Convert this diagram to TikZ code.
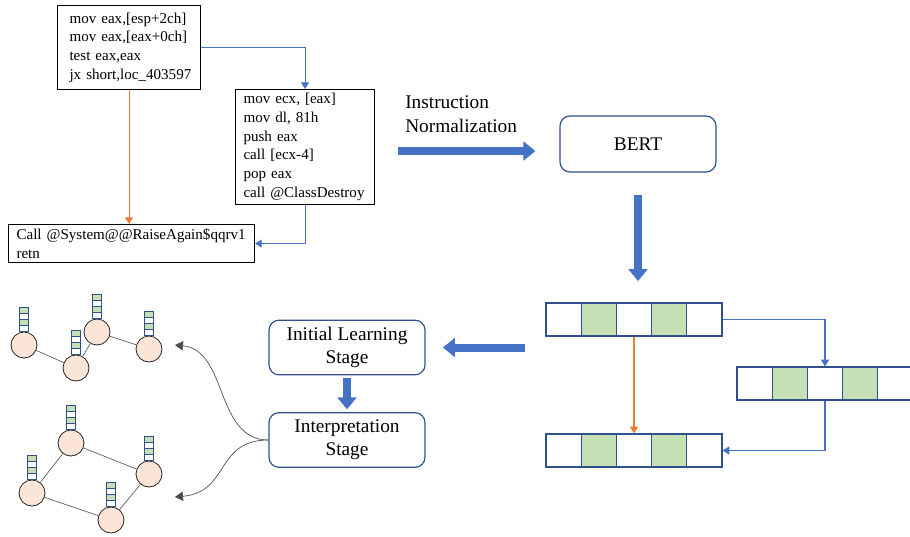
\documentclass[tikz,border=0pt]{standalone}
\usepackage{fontspec}
\setmainfont{Liberation Serif}
\usetikzlibrary{arrows.meta,positioning}

\definecolor{arrowblue}{HTML}{4472C4}
\definecolor{edgeblue}{HTML}{2F528F}
\definecolor{lineorange}{HTML}{ED7D31}
\definecolor{cellgreen}{HTML}{C5E0B4}
\definecolor{nodepeach}{HTML}{FBE5D6}

\tikzset{
  codebox/.style={draw=black, line width=0.8pt, align=left, anchor=north west,
    inner ysep=0pt, font=\fontsize{11.3}{14}\selectfont},
  stagebox/.style={draw=edgeblue, line width=0.9pt, rounded corners=7.5pt,
    minimum width=117pt, minimum height=41pt, align=center,
    font=\fontsize{14.5}{17.5}\selectfont},
  cell/.style={draw=edgeblue, line width=0.9pt, minimum width=26.4pt,
    minimum height=24.75pt, inner sep=0pt},
  gnode/.style={circle, draw=black!85, fill=nodepeach, line width=0.6pt,
    minimum size=19.5pt, inner sep=0pt},
  gedge/.style={draw=black!65, line width=0.5pt},
  flowblue/.style={draw=arrowblue, line width=0.8pt, -{Triangle[width=6pt,length=5pt]}},
  floworange/.style={draw=lineorange, line width=0.8pt, -{Triangle[width=6pt,length=5pt]}},
  bigarrow/.style={draw=arrowblue, line width=6pt, -{Triangle[width=14pt,length=9pt]}},
  swoop/.style={draw=black!70, line width=0.5pt, -{Triangle[width=7pt,length=6pt]}}
}

% feature bar on top of a graph node
\newcommand\featbar[1]{%
  \foreach \k/\f in {0/white,1/cellgreen,2/white,3/cellgreen}
    \draw[draw=edgeblue, fill=\f, line width=0.6pt]
      ([xshift=-3.4pt, yshift=\k*4.5pt]#1.north) rectangle ++(6.8pt,4.5pt);%
}

\begin{document}
\begin{tikzpicture}[x=0.75pt, y=-0.75pt]
    \useasboundingbox (0,0) rectangle (910,536);

    % Code blocks
    \node[codebox, inner xsep=9pt, text width=89.25pt, minimum height=63pt] (blkA) at (57,5)
      {mov eax,[esp+2ch]\\ mov eax,[eax+0ch]\\ test eax,eax\\ jx~short,loc\_403597};
    \node[codebox, inner xsep=6pt, text width=92.25pt, minimum height=86.25pt] (blkB) at (235,89)
      {mov ecx, [eax]\\ mov dl, 81h\\ push eax\\ call [ecx-4]\\ pop eax\\ call @ClassDestroy};
    \node[codebox, inner xsep=6pt, text width=172.5pt, minimum height=28.5pt] (blkC) at (8,224)
      {Call @System@@RaiseAgain\$qqrv1\\ retn};

    \draw[flowblue] (blkA.east) -| (blkB.north);
    \draw[floworange] (blkA.south) -- (blkA.south |- blkC.north);
    \draw[flowblue] (blkB.south) |- (blkC.east);

    % Normalization and BERT
    \node[align=left, anchor=north west, inner sep=0pt, font=\fontsize{14.5}{18}\selectfont] (normtxt) at (405,95)
      {Instruction\\ Normalization};
    \node[stagebox, minimum height=42pt] (bert) at (638,144) {BERT};
    \draw[bigarrow, shorten <=17pt, shorten >=18pt] ([yshift=-3pt]blkB.east) -- ([yshift=-3pt]blkB.east -| bert.west);

    % Embedding vectors
    \foreach \i/\f in {1/white,2/cellgreen,3/white,4/cellgreen,5/white} {
        \node[cell, fill=\f] (va\i) at (546+35.2*\i-17.6, 319.5) {};
        \node[cell, fill=\f] (vb\i) at (737+35.2*\i-17.6, 383.5) {};
        \node[cell, fill=\f] (vc\i) at (546+35.2*\i-17.6, 450.5) {};
    }
    \draw[bigarrow, shorten <=17pt, shorten >=16pt] (bert.south) -- (bert.south |- va1.north);
    \draw[flowblue] (va5.east) -| (vb3.north);
    \draw[floworange] (va3.south) -- (vc3.north);
    \draw[flowblue] (vb3.south) |- (vc5.east);

    % Stages
    \node[stagebox] (initst) at (347,347.5) {Initial Learning\\ Stage};
    \node[stagebox] (interp) at (347,440) {Interpretation\\ Stage};
    \draw[bigarrow, shorten <=15pt, shorten >=13pt] (va1.west |- initst.east) -- (initst.east);
    \draw[bigarrow, shorten <=2pt, shorten >=2pt] (initst.south) -- (interp.north);

    % Graphs
    \node[gnode] (g1) at (24,345) {};
    \node[gnode] (g2) at (76,368) {};
    \node[gnode] (g3) at (97,332) {};
    \node[gnode] (g4) at (149,349) {};
    \draw[gedge] (g1) -- (g2) (g2) -- (g3) (g3) -- (g4);
    \foreach \n in {g1,g2,g3,g4} \featbar{\n};

    \node[gnode] (h1) at (71,443) {};
    \node[gnode] (h2) at (149,474) {};
    \node[gnode] (h3) at (32,493) {};
    \node[gnode] (h4) at (111,520) {};
    \draw[gedge] (h1) -- (h2) (h1) -- (h3) (h3) -- (h4) (h4) -- (h2);
    \foreach \n in {h1,h2,h3,h4} \featbar{\n};

    \coordinate (upper) at (175,345);
    \coordinate (lower) at (175,497);
    \draw[swoop] (interp.west) .. controls (215,440) and (228,350) .. (upper);
    \draw[swoop] (interp.west) .. controls (215,440) and (230,492) .. (lower);
\end{tikzpicture}
\end{document}
